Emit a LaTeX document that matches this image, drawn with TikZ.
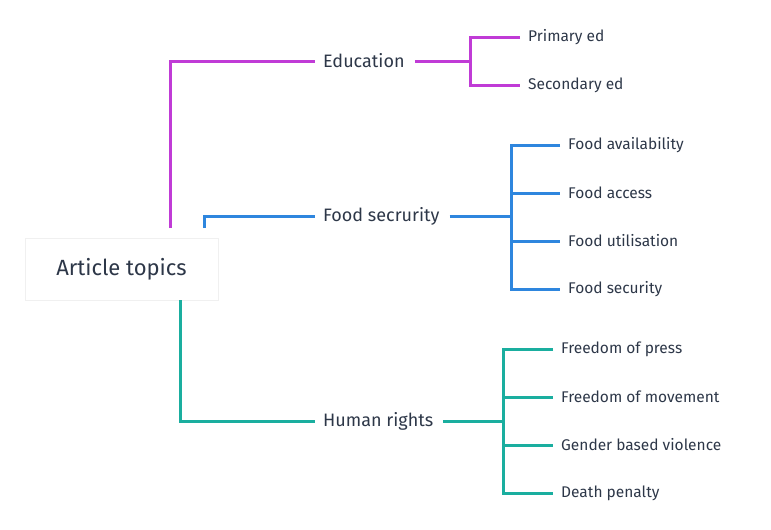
\documentclass[tikz,border=0pt]{standalone}
\usepackage{fontspec}
\setmainfont{Fira Sans}
\begin{document}
\begin{tikzpicture}[x=1pt,y=-1pt,
  main/.style={anchor=west,inner sep=0pt,font=\fontsize{18}{20}\selectfont,text=txt},
  sub/.style={anchor=west,inner sep=0pt,font=\fontsize{15.5}{18}\selectfont,text=txt},
  ln/.style={line width=3pt}]
\definecolor{txt}{HTML}{2D3748}
\definecolor{mag}{HTML}{C03BD6}
\definecolor{blu}{HTML}{2E86DE}
\definecolor{tea}{HTML}{1AAE9F}
\useasboundingbox (0,0) rectangle (771,530);
\node[draw=gray!12,fill=white,minimum width=193pt,minimum height=62pt,inner sep=0pt,font=\fontsize{22}{24}\selectfont,text=txt] (root) at (121.5,269) {Article topics};
% Education
\node[main] (edu) at (323,61) {Education};
\node[sub] (pe) at (528,37) {Primary ed};
\node[sub] (se) at (528,85) {Secondary ed};
\draw[ln,mag] (170,228) -- (170,61) -- ([xshift=-8pt]edu.west);
\draw[ln,mag] ([xshift=10pt]edu.east) -- (470,61);
\draw[ln,mag] ([xshift=-8pt]pe.west) -- (470,37) -- (470,85) -- ([xshift=-8pt]se.west);
% Food
\node[main] (food) at (323,216) {Food secrurity};
\node[sub] (f1) at (568,145) {Food availability};
\node[sub] (f2) at (568,193) {Food access};
\node[sub] (f3) at (568,241) {Food utilisation};
\node[sub] (f4) at (568,289) {Food security};
\draw[ln,blu] (204,228) -- (204,216) -- ([xshift=-8pt]food.west);
\draw[ln,blu] ([xshift=10pt]food.east) -- (511,216);
\draw[ln,blu] ([xshift=-8pt]f1.west) -- (511,145) -- (511,289) -- ([xshift=-8pt]f4.west);
\draw[ln,blu] (511,193) -- ([xshift=-8pt]f2.west);
\draw[ln,blu] (511,241) -- ([xshift=-8pt]f3.west);
% Human rights
\node[main] (hr) at (323,421) {Human rights};
\node[sub] (h1) at (561,349) {Freedom of press};
\node[sub] (h2) at (561,397) {Freedom of movement};
\node[sub] (h3) at (561,445) {Gender based violence};
\node[sub] (h4) at (561,493) {Death penalty};
\draw[ln,tea] (180,300) -- (180,421) -- ([xshift=-8pt]hr.west);
\draw[ln,tea] ([xshift=10pt]hr.east) -- (503,421);
\draw[ln,tea] ([xshift=-8pt]h1.west) -- (503,349) -- (503,493) -- ([xshift=-8pt]h4.west);
\draw[ln,tea] (503,397) -- ([xshift=-8pt]h2.west);
\draw[ln,tea] (503,445) -- ([xshift=-8pt]h3.west);
\end{tikzpicture}
\end{document}
